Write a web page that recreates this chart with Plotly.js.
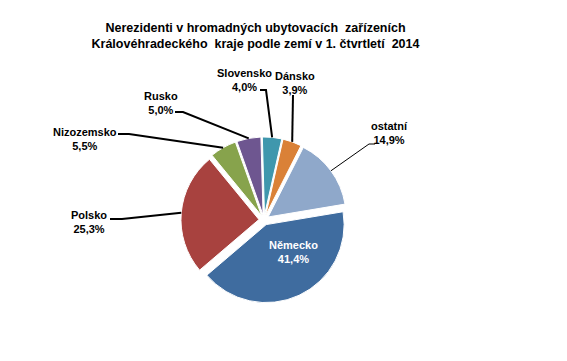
<!DOCTYPE html>
<html><head><meta charset="utf-8">
<script src="https://cdn.plot.ly/plotly-3.0.1.min.js"></script>
<style>html,body{margin:0;padding:0;background:#fff;} #chart{width:567px;height:361px;}</style>
</head><body><div id="chart"></div>
<script>
// ---- data ----
const countries = ['Německo', 'Polsko', 'Nizozemsko', 'Rusko', 'Slovensko', 'Dánsko', 'ostatní'];
const shares = [41.4, 25.3, 5.5, 5.0, 4.0, 3.9, 14.9];
const titleLines = ['Nerezidenti v hromadných ubytovacích \u00a0zařízeních',
                    'Královéhradeckého \u00a0kraje podle zemí v 1. čtvrtletí \u00a02014'];

// ---- styles ----
const colors = ['#3F6C9F', '#A8423F', '#87A34C', '#6E5690', '#3F97AD', '#DA8137', '#8FA8CA'];
const FONT = 'Liberation Sans, Arial, sans-serif';

// ---- layout geometry (pixels) ----
const W = 567, H = 361, CX = 264, CY = 220, RAD = 78, PULL = 0.065, ROT = 80.5;
const labelCenter = [[293, 252], [89, 222], [85, 139], [161, 103], [244, 80], [295, 83], [389, 133]];
const leaderStart = [null, [[110, 219], [122, 219]], [[118, 134], [129, 134]], [[175, 112], [183, 112]],
                     [[260, 90], [266, 90]], [[293, 95], [293, 95]], [[375, 144], [369, 144]]];
const leaderWidth = [0, 2, 2, 2, 2, 2, 1];

const px = x => x / W, py = y => 1 - y / H;

const half = RAD * (1 + PULL);
const domain = {
  x: [px(CX) - 0.16, px(CX) + 0.16],
  y: [py(CY + half), py(CY - half)]
};

const total = shares.reduce((a, b) => a + b, 0);
let cum = 0;
const annotations = [], shapes = [];
countries.forEach((c, i) => {
  const mid = (ROT + (cum + shares[i] / 2) / total * 360) * Math.PI / 180;
  cum += shares[i];
  const txt = c + '<br>' + shares[i].toFixed(1).replace('.', ',') + '%';
  annotations.push({
    xref: 'paper', yref: 'paper', x: px(labelCenter[i][0]), y: py(labelCenter[i][1]),
    xanchor: 'center', yanchor: 'middle', showarrow: false, text: txt,
    font: {family: FONT, size: 11, weight: 'bold', color: i === 0 ? '#ffffff' : '#000000'}
  });
  if (leaderStart[i]) {
    const ex = CX + half * Math.sin(mid), ey = CY - half * Math.cos(mid);
    const [a, b] = leaderStart[i];
    shapes.push({
      type: 'path', xref: 'paper', yref: 'paper',
      path: `M ${px(a[0])},${py(a[1])} L ${px(b[0])},${py(b[1])} L ${px(ex)},${py(ey)}`,
      line: {color: '#000000', width: leaderWidth[i]}
    });
  }
});

const trace = {
  type: 'pie', labels: countries, values: shares, sort: false, direction: 'clockwise',
  rotation: ROT, pull: countries.map(() => PULL), domain: domain,
  marker: {colors: colors, line: {color: '#ffffff', width: 1}},
  textinfo: 'none', hoverinfo: 'none', showlegend: false
};

const layout = {
  width: W, height: H, margin: {l: 0, r: 0, t: 0, b: 0},
  paper_bgcolor: '#ffffff', plot_bgcolor: '#ffffff', showlegend: false,
  title: {
    text: titleLines.join('<br>'), xref: 'container', yref: 'container',
    x: px(255.5), xanchor: 'center', y: py(32), yanchor: 'top',
    font: {family: FONT, size: 12.5, weight: 'bold', color: '#000000'}
  },
  annotations: annotations, shapes: shapes
};

Plotly.newPlot('chart', [trace], layout, {staticPlot: true});
</script></body></html>
